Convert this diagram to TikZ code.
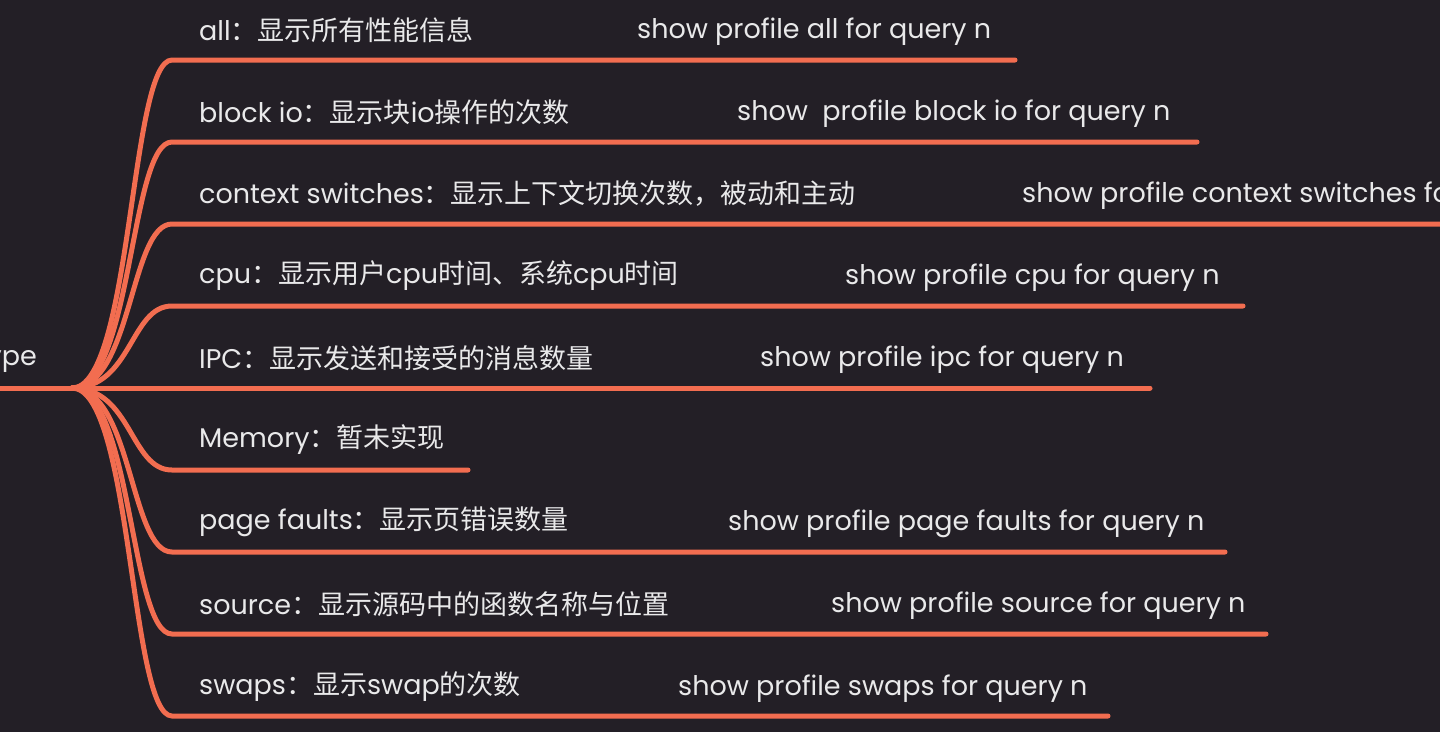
\documentclass[tikz,border=0pt]{standalone}
\usepackage{fontspec}
\setmainfont{Poppins}
\newfontfamily\cjk{Noto Sans CJK SC}[Scale=1.0]
\newcommand{\zh}[1]{{\cjk #1}}
\definecolor{bgc}{HTML}{231F26}
\definecolor{brc}{HTML}{F26D50}
\definecolor{txc}{HTML}{E9E9EA}
\begin{document}
\begin{tikzpicture}[x=1pt,y=-1pt,
  branch/.style={draw=brc,line width=5pt,line cap=round},
  lbl/.style={anchor=west,inner sep=0pt,text=txc,font=\fontsize{27}{30}\selectfont},
]
\useasboundingbox (0,0) rectangle (1440,732);
\fill[bgc] (0,0) rectangle (1440,732);
\clip (0,0) rectangle (1440,732);
% root
\coordinate (root) at (72,388);
\coordinate (rootL) at (-10,388);
\node[lbl,anchor=east] (roottext) at (37,360) {type};
\draw[branch] (rootL) -- (root);
% branches
\foreach \n/\y/\xe in {a/60/1015, b/142/1197, c/224/1460, d/306/1243, e/388/1150, f/470/468, g/552/1225, h/634/1266, i/716/1108}{
  \coordinate (\n s) at (172,\y);
  \coordinate (\n e) at (\xe,\y);
  \draw[branch] (root) .. controls +(60,0) and +(-42,0) .. (\n s) -- (\n e);
}
% labels
\node[lbl] (la) at (199,30) {all\zh{：显示所有性能信息}};
\node[lbl] (ra) at (637,32) {show profile all for query n};
\node[lbl] (lb) at (199,112) {block io\zh{：显示块}io\zh{操作的次数}};
\node[lbl] (rb) at (737,114) {show\ \ profile block io for query n};
\node[lbl] (lc) at (199,194) {context switches\zh{：显示上下文切换次数，被动和主动}};
\node[lbl] (rc) at (1022,196) {show profile context switches for query n};
\node[lbl] (ld) at (199,276) {cpu\zh{：显示用户}cpu\zh{时间、系统}cpu\zh{时间}};
\node[lbl] (rd) at (845,278) {show profile cpu for query n};
\node[lbl] (le) at (199,358) {IPC\zh{：显示发送和接受的消息数量}};
\node[lbl] (re) at (760,360) {show profile ipc for query n};
\node[lbl] (lf) at (199,440) {Memory\zh{：暂未实现}};
\node[lbl] (lg) at (199,522) {page faults\zh{：显示页错误数量}};
\node[lbl] (rg) at (728,524) {show profile page faults for query n};
\node[lbl] (lh) at (199,604) {source\zh{：显示源码中的函数名称与位置}};
\node[lbl] (rh) at (831,606) {show profile source for query n};
\node[lbl] (li) at (199,687) {swaps\zh{：显示}swap\zh{的次数}};
\node[lbl] (ri) at (678,689) {show profile swaps for query n};
\end{tikzpicture}
\end{document}
